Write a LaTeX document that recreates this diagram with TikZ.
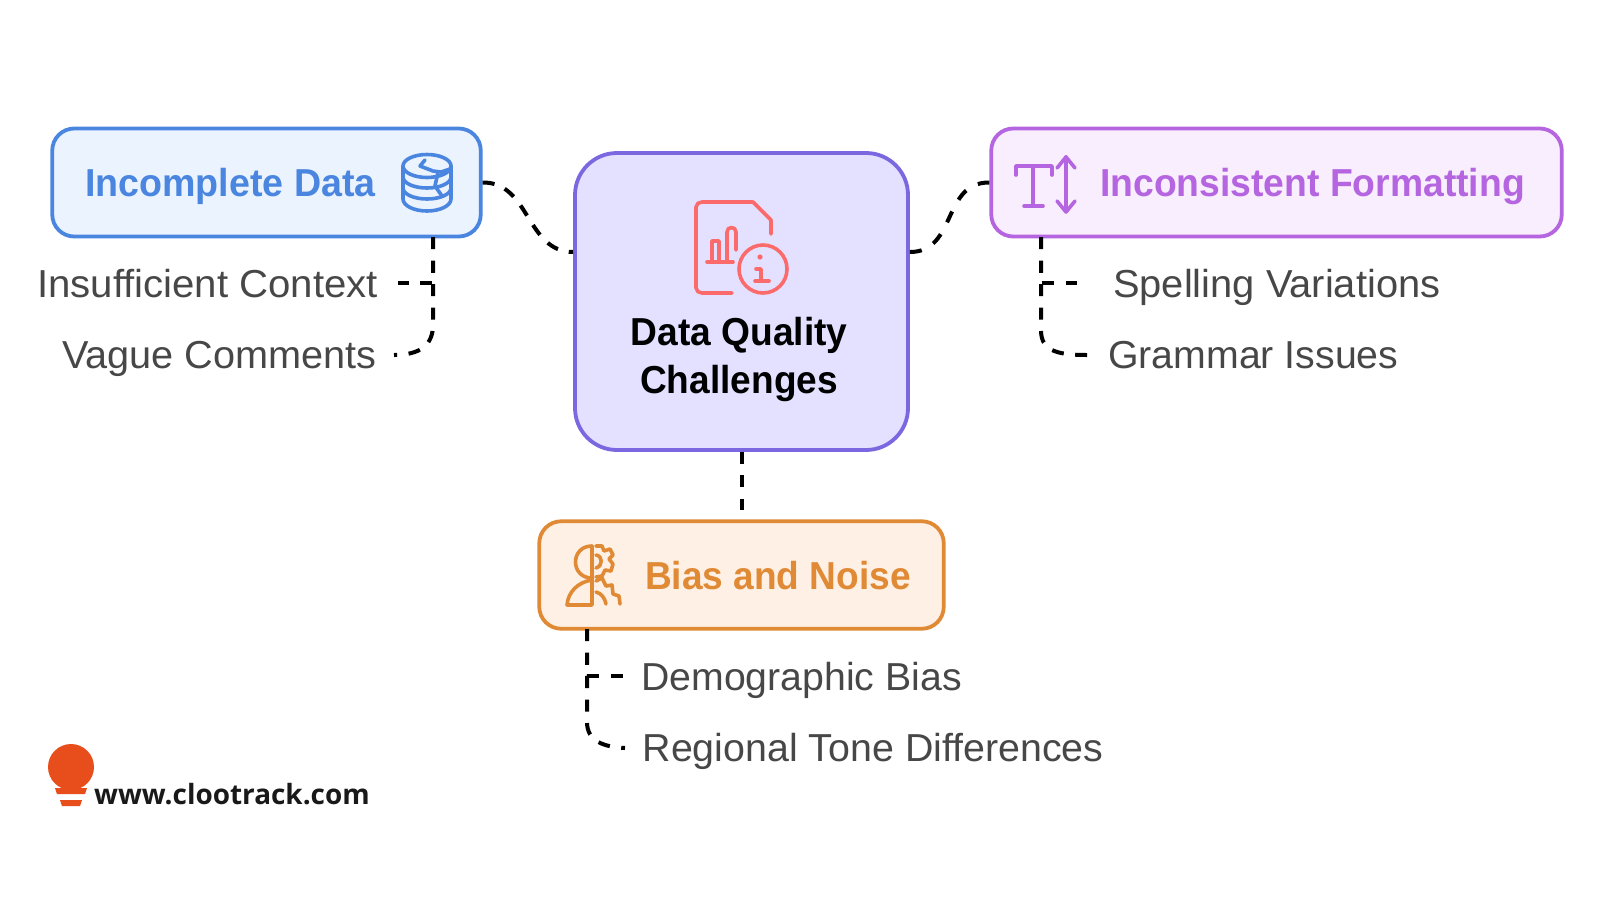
\documentclass[tikz,border=0pt]{standalone}
\usepackage{fontspec}
\setmainfont{Liberation Sans}
\newfontfamily\logofont{Open Sans}
\definecolor{cblue}{HTML}{4A86E0}
\definecolor{fblue}{HTML}{EBF3FE}
\definecolor{cpurp}{HTML}{B565E0}
\definecolor{fpurp}{HTML}{F8EEFE}
\definecolor{ccent}{HTML}{7B68E0}
\definecolor{fcent}{HTML}{E4E0FF}
\definecolor{corng}{HTML}{E08A35}
\definecolor{forng}{HTML}{FEF0E4}
\definecolor{cicon}{HTML}{FB6B6B}
\definecolor{cgrey}{HTML}{474747}
\definecolor{clogo}{HTML}{E84E1B}
\tikzset{
 x=1pt,y=-1pt,
 boxnode/.style={draw,line width=3.8pt,rounded corners=#1,inner sep=0pt},
 conn/.style={line width=4pt,black,dash pattern=on 12pt off 11.5pt},
 head/.style={font=\fontsize{39}{39}\selectfont\bfseries,anchor=base west,inner sep=0pt},
 sub/.style={font=\fontsize{39}{39}\selectfont,text=cgrey,anchor=base west,inner sep=0pt},
 ico/.style={line width=3.6pt,line cap=round,line join=round},
}
\begin{document}
\begin{tikzpicture}
\useasboundingbox (0,0) rectangle (1600,900);
\fill[white] (0,0) rectangle (1600,900);
% boxes
\node[boxnode=22pt,draw=cblue,fill=fblue,minimum width=428.5pt,minimum height=108pt] (inc) at (266.5,182.5) {};
\node[boxnode=42pt,draw=ccent,fill=fcent,minimum width=333pt,minimum height=297pt] (cen) at (741.5,301.5) {};
\node[boxnode=22pt,draw=cpurp,fill=fpurp,minimum width=570.5pt,minimum height=108pt] (fmt) at (1276.5,182.5) {};
\node[boxnode=22pt,draw=corng,fill=forng,minimum width=404.5pt,minimum height=107.5pt] (bia) at (741.5,575) {};
% heads
\node[head,text=cblue] (t1) at (85,196) {\scalebox{.964}[1]{Incomplete Data}};
\node[head,text=cpurp] (t2) at (1100,196) {\scalebox{.956}[1]{Inconsistent Formatting}};
\node[head,text=corng] (t3) at (645,589) {\scalebox{.95}[1]{Bias and Noise}};
\node[font=\fontsize{39}{39}\selectfont\bfseries,anchor=base,inner sep=0pt,text=black] (t0) at (739,345) {\scalebox{.953}[1]{Data Quality}};
\node[font=\fontsize{39}{39}\selectfont\bfseries,anchor=base,inner sep=0pt,text=black] (t00) at (739,393) {\scalebox{.95}[1]{Challenges}};
% subs
\node[sub] (s1) at (37,297) {\scalebox{1.03}[1]{Insufficient Context}};
\node[sub] (s2) at (62,368) {\scalebox{1.017}[1]{Vague Comments}};
\node[sub] (s3) at (1113,297) {\scalebox{1.022}[1]{Spelling Variations}};
\node[sub] (s4) at (1108,368) {\scalebox{1.007}[1]{Grammar Issues}};
\node[sub] (s5) at (641,690) {\scalebox{1.006}[1]{Demographic Bias}};
\node[sub] (s6) at (642.5,761) {\scalebox{1.009}[1]{Regional Tone Differences}};
% connectors
\coordinate (c1) at (cen.west |- 0,252);
\coordinate (c2) at (cen.east |- 0,252);
\coordinate (e0) at (cen.south |- 0,510);
\draw[conn,dash pattern=on 12pt off 11.2pt] (inc.east) .. controls (530,182) and (526,252) .. (c1);
\draw[conn,dash pattern=on 12pt off 13.4pt] (c2) .. controls (957,252) and (942,182) .. (fmt.west);
\draw[conn] (cen.south) -- (e0);
\coordinate (a0) at (433,237); \coordinate (a1) at (433,283); \coordinate (a2) at (398,283); \coordinate (a3) at (394,355);
\draw[conn] (a0) -- (a1) -- (a2);
\draw[conn] (a0) -- (433,325) .. controls (433,345) and (420,355) .. (a3);
\coordinate (b0) at (1041,237); \coordinate (b1) at (1041,283); \coordinate (b2) at (1077,283); \coordinate (b3) at (1087,355);
\draw[conn] (b0) -- (b1) -- (b2);
\draw[conn] (b0) -- (1041,330) .. controls (1041,350) and (1055,355) .. (b3);
\coordinate (d0) at (587,629); \coordinate (d1) at (587,676); \coordinate (d2) at (623,676); \coordinate (d3) at (625,748);
\draw[conn] (d0) -- (d1) -- (d2);
\draw[conn] (d0) -- (587,722) .. controls (587,742) and (605,747) .. (d3);
% db icon
\begin{scope}[ico,draw=cblue]
\draw (427,166) ellipse [x radius=24,y radius=11.5];
\draw (403,166) -- (403,199) arc[start angle=180,end angle=360,x radius=24,y radius=-12] -- (451,166);
\draw (403,177) arc[start angle=180,end angle=360,x radius=24,y radius=-11];
\draw (403,188) arc[start angle=180,end angle=360,x radius=24,y radius=-11];
\draw (425,160) -- (420,166) -- (433,171) -- (441,172) -- (450,169);
\draw (438,172) -- (435,186) -- (442,196);
\end{scope}
% T icon
\begin{scope}[ico,draw=cpurp]
\draw (1016,175) -- (1016,166) -- (1052,166) -- (1052,175);
\draw (1033,166) -- (1033,206);
\draw (1024,206) -- (1043,206);
\draw (1066,157) -- (1066,211);
\draw (1057,168) -- (1066,157) -- (1075,168);
\draw (1057,201) -- (1066,212) -- (1075,201);
\end{scope}
% doc icon
\begin{scope}[ico,draw=cicon]
\draw (732,293) -- (702,293) .. controls (699,293) and (696,291) .. (696,288) -- (696,207) .. controls (696,204) and (699,202) .. (702,202) -- (753,202) -- (771,220) -- (771,234);
\draw (707,262) -- (733,262);
\draw (712,262) -- (712,241) -- (719,241) -- (719,262);
\draw (727,262) -- (727,232) .. controls (727,226) and (736,226) .. (736,232) -- (736,250);
\draw (763,269) circle[radius=24];
\fill[cicon] (760,257) circle[radius=2.6];
\draw (756,269) -- (761,269) -- (761,281);
\draw (755,281) -- (769,281);
\end{scope}
% person gear icon
\begin{scope}[ico,draw=corng]
\draw (592,546) -- (592,605) -- (567,605) .. controls (568,592) and (578,582) .. (592,580);
\draw (592,546) .. controls (570,546) and (570,578) .. (592,578);
\draw (596,546) -- (602,546) -- (604,551) -- (610,549) -- (613,555) -- (609,559) -- (613,564) -- (611,571) -- (605,570) -- (602,576) -- (596,577);
\draw (596,555) .. controls (603,556) and (603,566) .. (596,568);
\draw (596,581) -- (602,578) -- (606,586) -- (612,585) -- (613,594) -- (619,596) -- (620,604);
\draw (596,592) .. controls (601,593) and (605,598) .. (606,604);
\end{scope}
% logo
\fill[clogo] (71,767) circle[radius=23];
\fill[clogo] (55,788) -- (87,788) -- (85,794) -- (57,794) -- cycle;
\fill[clogo] (60,800) -- (82,800) -- (80,806) -- (62,806) -- cycle;
\node[font=\logofont\bfseries\fontsize{27.9}{30}\selectfont,anchor=base west,inner sep=0pt,text=black!90] (www) at (94,804) {www.clootrack.com};
\end{tikzpicture}
\end{document}
